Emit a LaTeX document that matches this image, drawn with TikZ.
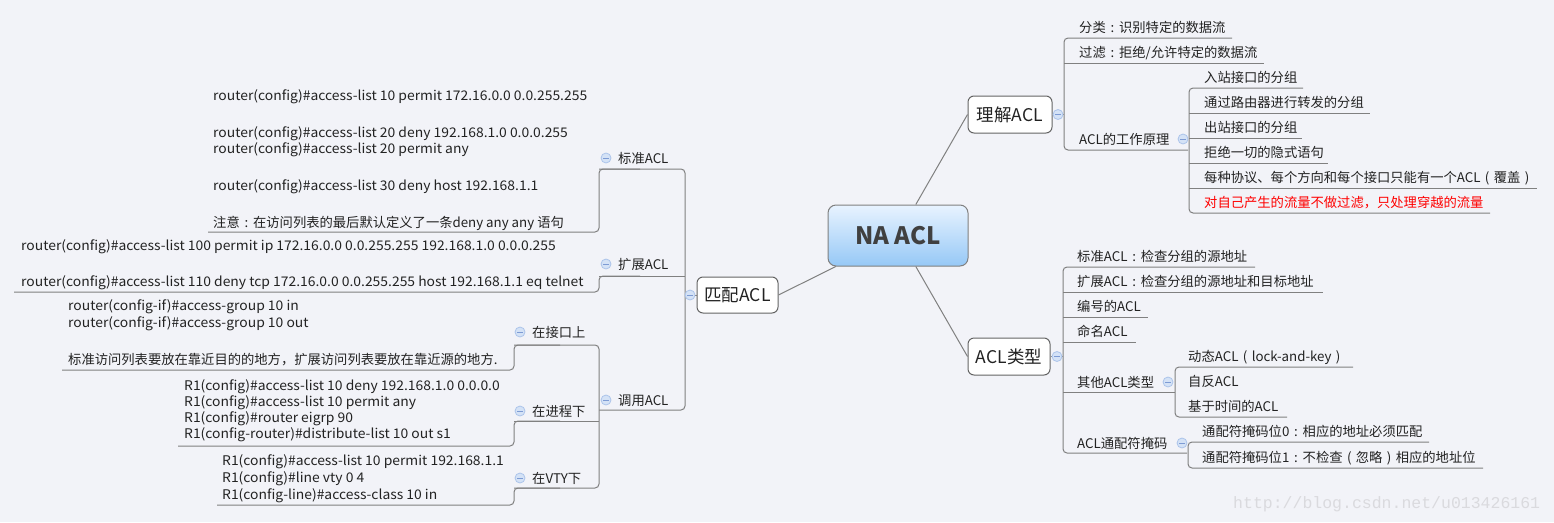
\documentclass[tikz,border=0pt]{standalone}
\usepackage{fontspec}
\setmainfont{Noto Sans CJK SC}
\newfontfamily\codefont[FakeStretch=1.045]{Noto Sans CJK SC}
\newfontfamily\wmfont{Liberation Mono}
\definecolor{bg}{RGB}{242,243,248}
\definecolor{ln}{RGB}{128,128,128}
\definecolor{bx}{RGB}{100,100,100}
\definecolor{tx}{RGB}{34,34,34}
\definecolor{icf}{RGB}{212,226,246}
\definecolor{icd}{RGB}{172,196,234}
\definecolor{icm}{RGB}{125,155,212}
\definecolor{wm}{RGB}{218,218,222}
\newcommand\fcolon{\makebox[1em][c]{:}}
\newcommand\flp{\makebox[1em][c]{(}}
\newcommand\frp{\makebox[1em][c]{)}}
\tikzset{
  conn/.style={draw=ln, line width=1pt},
  rc/.style={conn, rounded corners=4pt},
  txt/.style={inner sep=0pt, anchor=base west, text=tx, font=\fontsize{13.3}{16}\selectfont},
  code/.style={txt, font=\codefont\fontsize{13.3}{16}\selectfont},
  box/.style={draw=bx, fill=white, rounded corners=6pt, line width=1pt, minimum height=37pt,
    inner sep=0pt, text=tx, font=\fontsize{17.5}{20}\selectfont},
  icon/.style={circle, draw=icd, fill=icf, minimum size=10pt, inner sep=0pt, line width=0.8pt,
    path picture={\draw[icm, line width=0.9pt] ([xshift=-2.6pt]path picture bounding box.center) -- ([xshift=2.6pt]path picture bounding box.center);}},
}
\newcommand\mmline[4]{\node[txt] (#1) at (#2,#3) {#4};}
\newcommand\mmcode[4]{\node[code] (#1) at (#2,#3) {#4};}
\begin{document}
\begin{tikzpicture}[x=1pt,y=-1pt]
\fill[bg] (0,0) rectangle (1554,522);
\useasboundingbox (0,0) rectangle (1554,522);

% ---------- central and main boxes ----------
\node[draw=ln, rounded corners=8pt, line width=1pt, top color={rgb,255:red,232;green,243;blue,255},
  bottom color={rgb,255:red,150;green,200;blue,246}, minimum width=140pt, minimum height=61pt,
  text={rgb,255:red,64;green,64;blue,64}, font=\fontsize{24}{28}\selectfont\bfseries] (na) at (898,235.5) {NA ACL};
\node[box, minimum width=84pt] (lj) at (1010,114.5) {理解ACL};
\node[box, minimum width=82pt] (lx) at (1009,356.5) {ACL类型};
\node[box, minimum width=81pt, minimum height=36pt] (pp) at (737.5,295) {匹配ACL};

\draw[conn] (na) -- (lj.west);
\draw[conn] (na) -- (lx.west);
\draw[conn] (na) -- (pp.east);

% ---------- 理解ACL ----------
\draw[conn] (lj.east) -- (1064,114.5);
\draw[rc] (1232,38) -- (1064,38) -- (1064,150) -- (1188,150);
\draw[conn] (1064,63) -- (1264,63);
\mmline{r1}{1079}{32}{分类\fcolon 识别特定的数据流}
\mmline{r2}{1079}{57}{过滤\fcolon 拒绝/允许特定的数据流}
\mmline{r3}{1079}{144}{ACL的工作原理}
\draw[rc] (1303,88) -- (1189,88) -- (1189,213) -- (1490,213);
\draw[conn] (1189,113) -- (1370,113);
\draw[conn] (1189,138) -- (1302,138);
\draw[conn] (1189,163) -- (1328,163);
\draw[conn] (1189,188) -- (1537,188);
\mmline{r31}{1204}{82}{入站接口的分组}
\mmline{r32}{1204}{107}{通过路由器进行转发的分组}
\mmline{r33}{1204}{132}{出站接口的分组}
\mmline{r34}{1204}{157}{拒绝一切的隐式语句}
\mmline{r35}{1204}{182}{每种协议、每个方向和每个接口只能有一个ACL\flp 覆盖\frp}
\node[txt, text=red] (r36) at (1204,207) {对自己产生的流量不做过滤，只处理穿越的流量};
\node[icon] (i1) at (1058,114.5) {};
\node[icon] (i2) at (1183,139) {};

% ---------- ACL类型 ----------
\draw[conn] (lx.east) -- (1063,356.5);
\draw[rc] (1255,267) -- (1063,267) -- (1063,453) -- (1187,453);
\draw[conn] (1063,292) -- (1323,292);
\draw[conn] (1063,317) -- (1148,317);
\draw[conn] (1063,342) -- (1136,342);
\draw[conn] (1063,392) -- (1175,392);
\mmline{t1}{1077}{261}{标准ACL\fcolon 检查分组的源地址}
\mmline{t2}{1077}{286}{扩展ACL\fcolon 检查分组的源地址和目标地址}
\mmline{t3}{1077}{311}{编号的ACL}
\mmline{t4}{1077}{336}{命名ACL}
\mmline{t5}{1077}{387}{其他ACL类型}
\mmline{t6}{1077}{448}{ACL通配符掩码}
\draw[rc] (1353,367) -- (1175,367) -- (1175,417) -- (1287,417);
\mmline{t51}{1188}{361}{动态ACL\flp lock-and-key\frp}
\mmline{t52}{1188}{386}{自反ACL}
\mmline{t53}{1188}{411}{基于时间的ACL}
\draw[rc] (1429,442) -- (1188,442) -- (1188,468) -- (1483,468);
\mmline{t61}{1202}{436}{通配符掩码位0\fcolon 相应的地址必须匹配}
\mmline{t62}{1202}{462}{通配符掩码位1\fcolon 不检查\flp 忽略\frp 相应的地址位}
\node[icon] (i3) at (1057,356.5) {};
\node[icon] (i4) at (1168,382) {};
\node[icon] (i5) at (1182,443) {};

% ---------- 匹配ACL ----------
\draw[conn] (pp.west) -- (685,295);
\draw[rc] (599,169) -- (685,169) -- (685,410) -- (599,410);
\draw[conn] (599,276) -- (685,276);
\mmline{l1}{618}{163}{标准ACL}
\mmline{l2}{618}{269}{扩展ACL}
\mmline{l3}{618}{405}{调用ACL}
\node[icon] (i6) at (690,295) {};
\node[icon] (i7) at (606,158) {};
\node[icon] (i8) at (606,264) {};
\node[icon] (i9) at (606,400) {};

% 标准ACL
\draw[rc] (640,169) -- (599,169) -- (599,232) -- (208,232);
\mmcode{a1}{213}{100}{router(config)\#access-list 10 permit 172.16.0.0 0.0.255.255}
\mmcode{a2}{213}{137}{router(config)\#access-list 20 deny 192.168.1.0 0.0.0.255}
\mmcode{a3}{213}{153}{router(config)\#access-list 20 permit any}
\mmcode{a4}{213}{190}{router(config)\#access-list 30 deny host 192.168.1.1}
\mmline{a5}{213}{227}{注意\fcolon 在访问列表的最后默认定义了一条deny any any 语句}

% 扩展ACL
\draw[rc] (640,276) -- (599,276) -- (599,292) -- (14,292);
\mmcode{b1}{21}{250}{router(config)\#access-list 100 permit ip 172.16.0.0 0.0.255.255 192.168.1.0 0.0.0.255}
\mmcode{b2}{21}{286}{router(config)\#access-list 110 deny tcp 172.16.0.0 0.0.255.255 host 192.168.1.1 eq telnet}

% 调用ACL
\draw[rc] (514,345) -- (599,345) -- (599,488) -- (514,488);
\draw[conn] (514,421) -- (599,421);
\mmline{l31}{532}{337}{在接口上}
\mmline{l32}{532}{416}{在进程下}
\mmline{l33}{532}{483}{在VTY下}
\node[icon] (i10) at (520,332) {};
\node[icon] (i11) at (520,411) {};
\node[icon] (i12) at (520,478) {};

\draw[rc] (560,345) -- (514,345) -- (514,370) -- (62,370);
\mmcode{c1}{68}{310}{router(config-if)\#access-group 10 in}
\mmcode{c2}{68}{327}{router(config-if)\#access-group 10 out}
\mmline{c3}{68}{364}{标准访问列表要放在靠近目的的地方，扩展访问列表要放在靠近源的地方.}

\draw[rc] (560,421) -- (514,421) -- (514,446) -- (178,446);
\mmcode{d1}{184}{390}{R1(config)\#access-list 10 deny 192.168.1.0 0.0.0.0}
\mmcode{d2}{184}{406.5}{R1(config)\#access-list 10 permit any}
\mmcode{d3}{184}{422.5}{R1(config)\#router eigrp 90}
\mmcode{d4}{184}{438.5}{R1(config-router)\#distribute-list 10 out s1}

\draw[rc] (560,488) -- (514,488) -- (514,505) -- (217,505);
\mmcode{e1}{222}{465.5}{R1(config)\#access-list 10 permit 192.168.1.1}
\mmcode{e2}{222}{482.5}{R1(config)\#line vty 0 4}
\mmcode{e3}{222}{499}{R1(config-line)\#access-class 10 in}

% watermark
\node[inner sep=0pt, anchor=base west, text=wm, font=\wmfont\fontsize{16.5}{18}\selectfont] (wmk) at (1233,508) {http://blog.csdn.net/u013426161};
\end{tikzpicture}
\end{document}
